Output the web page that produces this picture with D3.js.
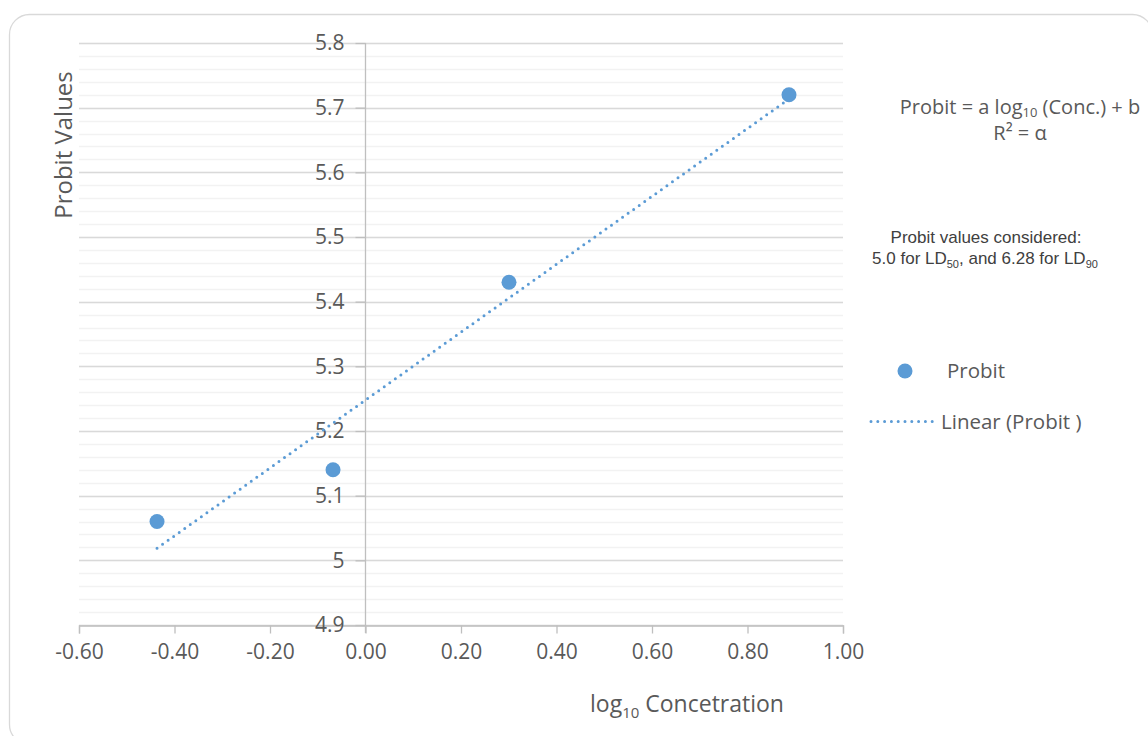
<!DOCTYPE html>
<html><head><meta charset="utf-8">
<script src="https://cdn.jsdelivr.net/npm/d3@7"></script>
<style>body{margin:0;background:#fff}svg{display:block}</style>
</head><body>
<script>
const xValues = [-0.4366, -0.068, 0.3005, 0.8869];
const yValues = [5.06, 5.14, 5.43, 5.72];
const xTicks = [-0.6, -0.4, -0.2, 0, 0.2, 0.4, 0.6, 0.8, 1.0];
const yTicks = [4.9, 5.0, 5.1, 5.2, 5.3, 5.4, 5.5, 5.6, 5.7, 5.8];
const yTickLabels = ["4.9","5","5.1","5.2","5.3","5.4","5.5","5.6","5.7","5.8"];
const seriesName = "Probit";
const trendName = "Linear (Probit )";

const W = 1148, H = 736;
const svg = d3.select("body").append("svg").attr("width", W).attr("height", H);
svg.append("rect").attr("x", 9.5).attr("y", 14.5).attr("width", 1143).attr("height", 730)
  .attr("rx", 20).attr("fill", "#fff").attr("stroke", "#d9d9d9").attr("stroke-width", 1.3);

const x = d3.scaleLinear().domain([-0.6, 1.0]).range([79, 843]);
const y = d3.scaleLinear().domain([4.9, 5.8]).range([625, 43]);
const font = "'Open Sans', sans-serif";
const grey = "#595959";
const fmt = d3.formatLocale({decimal: ".", thousands: ",", grouping: [3], currency: ["", ""], minus: "-"}).format(".2f");

// minor gridlines
const minor = d3.range(0, 46).map(i => 4.9 + i * 0.02);
svg.append("g").selectAll("line").data(minor).join("line")
  .attr("x1", x(-0.6)).attr("x2", x(1.0))
  .attr("y1", d => Math.round(y(d)) + 0.5).attr("y2", d => Math.round(y(d)) + 0.5)
  .attr("stroke", "#f2f2f2").attr("stroke-width", 1.3);
// major gridlines
svg.append("g").selectAll("line").data(yTicks).join("line")
  .attr("x1", x(-0.6)).attr("x2", x(1.0))
  .attr("y1", d => Math.round(y(d)) + 0.5).attr("y2", d => Math.round(y(d)) + 0.5)
  .attr("stroke", "#d9d9d9").attr("stroke-width", 1.3);

// x axis at y=4.9
const xAxis = d3.axisBottom(x).tickValues(xTicks).tickFormat(fmt).tickSize(8).tickPadding(8);
const gx = svg.append("g").attr("transform", `translate(0,${Math.round(y(4.9)) + 0.5})`).call(xAxis);
gx.select(".domain").attr("stroke", "#bfbfbf").attr("stroke-width", 1.3);
gx.selectAll(".tick line").attr("stroke", "#bfbfbf").attr("stroke-width", 1.3);
gx.selectAll(".tick text").attr("fill", grey).style("font-family", font).style("font-size", "21px").attr("dy", "0.85em");

// y axis at x=0
const yAxis = d3.axisLeft(y).tickValues(yTicks).tickFormat((d, i) => yTickLabels[i]).tickSize(10).tickPadding(11).tickSizeOuter(0);
const gy = svg.append("g").attr("transform", `translate(${Math.round(x(0)) + 0.5},0)`).call(yAxis);
gy.select(".domain").attr("stroke", "#bfbfbf").attr("stroke-width", 1.3)
  .attr("d", `M0,${y(5.8)}V${y(4.9) + 8}`);
gy.selectAll(".tick line").attr("stroke", "#bfbfbf").attr("stroke-width", 1.3);
gy.selectAll(".tick text").attr("fill", grey).style("font-family", font).style("font-size", "21px");

// trendline via least squares
const n = xValues.length;
const mx = d3.mean(xValues), my = d3.mean(yValues);
let sxy = 0, sxx = 0;
for (let i = 0; i < n; i++) { sxy += (xValues[i] - mx) * (yValues[i] - my); sxx += (xValues[i] - mx) ** 2; }
const slope = sxy / sxx, icpt = my - slope * mx;
const x0 = d3.min(xValues), x1 = d3.max(xValues);
svg.append("line")
  .attr("x1", x(x0)).attr("y1", y(icpt + slope * x0))
  .attr("x2", x(x1)).attr("y2", y(icpt + slope * x1))
  .attr("stroke", "#5b9bd5").attr("stroke-width", 3)
  .attr("stroke-dasharray", "0 6.8").attr("stroke-linecap", "round");

// points
svg.append("g").selectAll("circle").data(xValues).join("circle")
  .attr("cx", d => x(d)).attr("cy", (d, i) => y(yValues[i])).attr("r", 7.5)
  .attr("fill", "#5b9bd5");

// axis titles
svg.append("text").attr("transform", "translate(72,145) rotate(-90)")
  .attr("text-anchor", "middle").attr("fill", grey)
  .style("font-family", font).style("font-size", "24px").text("Probit Values");
const xt = svg.append("text").attr("x", 687).attr("y", 712).attr("text-anchor", "middle")
  .attr("fill", grey).style("font-family", font).style("font-size", "23px");
xt.append("tspan").text("log");
xt.append("tspan").attr("dy", 6).style("font-size", "15px").text("10");
xt.append("tspan").attr("dy", -6).text(" Concetration");

// equation annotation
const eq = svg.append("text").attr("x", 1020).attr("y", 114).attr("text-anchor", "middle")
  .attr("fill", grey).style("font-family", font).style("font-size", "20px");
eq.append("tspan").text("Probit = a log");
eq.append("tspan").attr("dy", 3).style("font-size", "13px").text("10");
eq.append("tspan").attr("dy", -3).text(" (Conc.) + b");
svg.append("text").attr("x", 1020).attr("y", 140).attr("text-anchor", "middle")
  .attr("fill", grey).style("font-family", font).style("font-size", "20px").text("R² = α");

svg.append("text").attr("x", 986).attr("y", 243).attr("text-anchor", "middle")
  .attr("fill", "#404040").style("font-family", "'Liberation Sans', Arial, sans-serif").style("font-size", "17px")
  .text("Probit values considered:");
const ld = svg.append("text").attr("x", 985).attr("y", 264).attr("text-anchor", "middle")
  .attr("fill", "#404040").style("font-family", "'Liberation Sans', Arial, sans-serif").style("font-size", "17px");
ld.append("tspan").text("5.0 for LD");
ld.append("tspan").attr("dy", 4).style("font-size", "11px").text("50");
ld.append("tspan").attr("dy", -4).text(", and 6.28 for LD");
ld.append("tspan").attr("dy", 4).style("font-size", "11px").text("90");

// legend
svg.append("circle").attr("cx", 905).attr("cy", 371).attr("r", 7.5).attr("fill", "#5b9bd5");
svg.append("text").attr("x", 947).attr("y", 378).attr("fill", grey)
  .style("font-family", font).style("font-size", "20.5px").text(seriesName);
svg.append("line").attr("x1", 871).attr("x2", 938).attr("y1", 421.5).attr("y2", 421.5)
  .attr("stroke", "#5b9bd5").attr("stroke-width", 3)
  .attr("stroke-dasharray", "0 6.8").attr("stroke-linecap", "round");
svg.append("text").attr("x", 941).attr("y", 429).attr("fill", grey)
  .style("font-family", font).style("font-size", "20.5px").text(trendName);
</script>
</body></html>
